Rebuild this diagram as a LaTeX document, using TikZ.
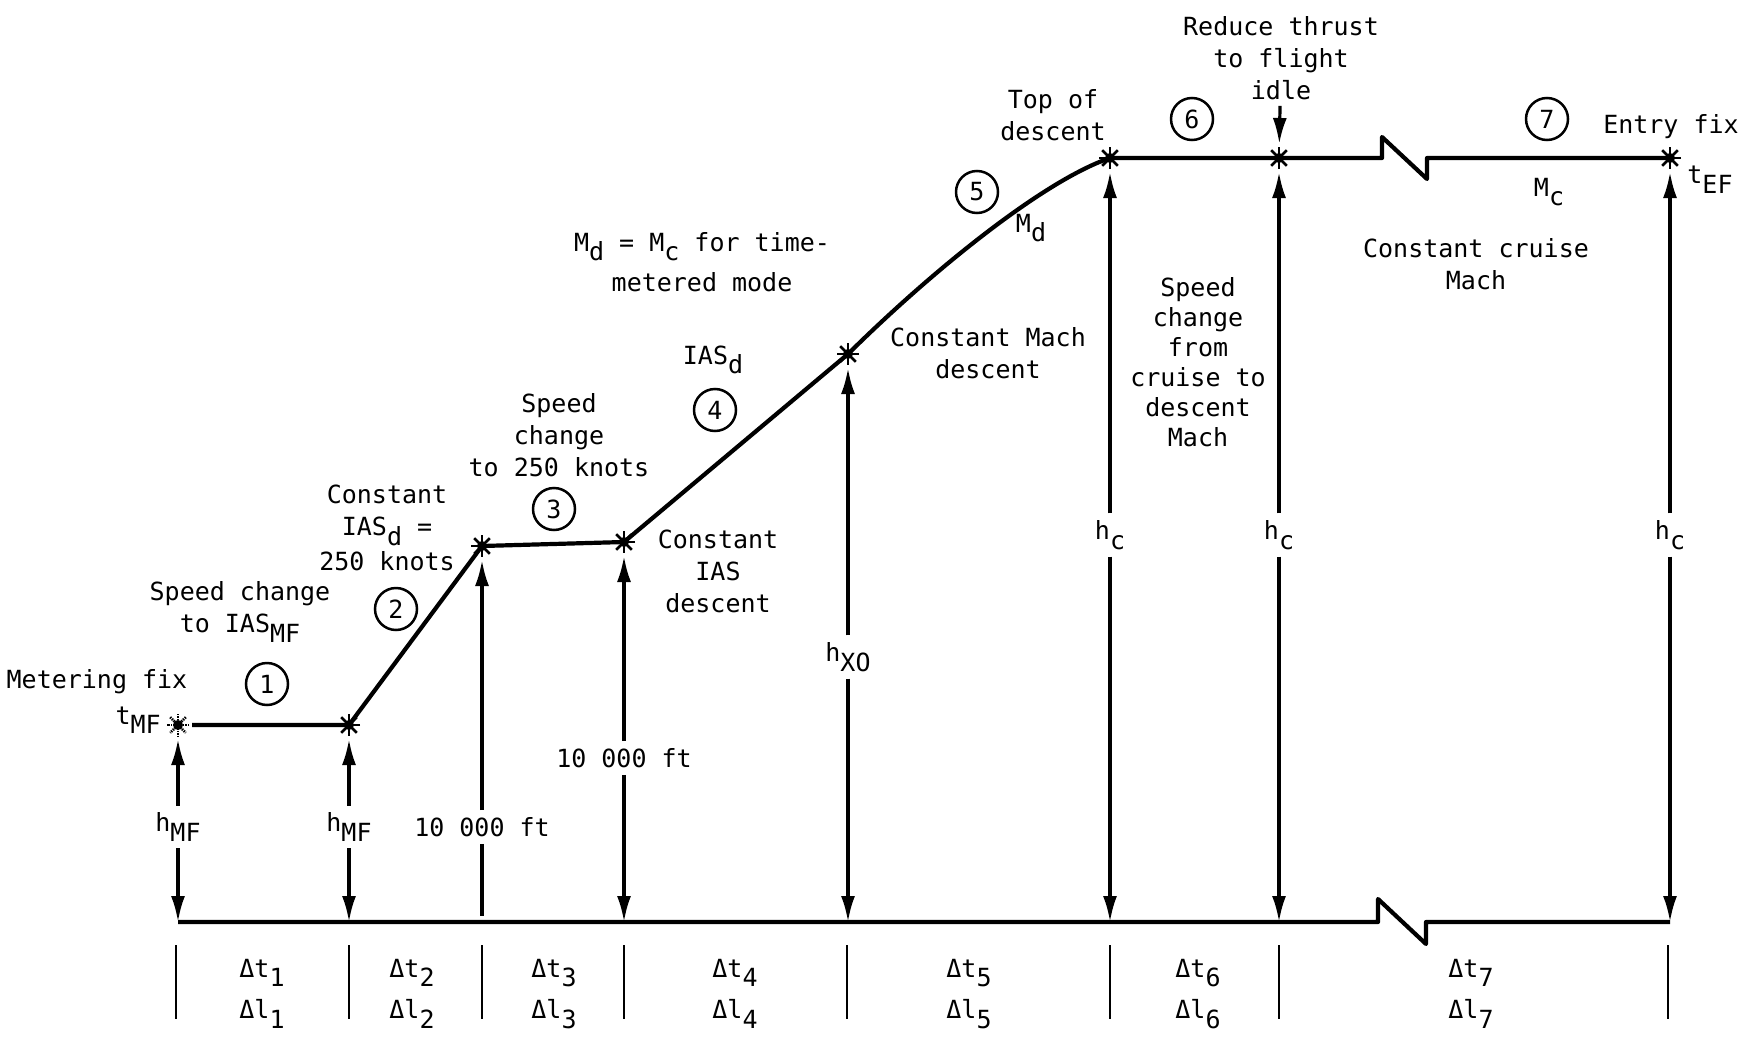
\documentclass[tikz,border=0pt]{standalone}
\usepackage{fontspec}
\newfontfamily\monofnt{DejaVu Sans Mono}
\usetikzlibrary{arrows.meta, positioning}
\newcommand{\lowr}[1]{\raisebox{-0.7ex}{#1}}
\newcommand{\lblfont}{\monofnt\fontsize{25}{32}\selectfont}

\tikzset{
  lbl/.style={font=\lblfont, align=center, inner sep=0pt},
  vlbl/.style={lbl, inner sep=7pt},
  cnum/.style={circle, draw, line width=2.5pt, minimum size=42pt, inner sep=0pt, font=\lblfont},
  track/.style={line width=4.2pt, line join=round},
  harrow/.style={line width=3.2pt, -{Latex[length=26pt,width=14pt]}},
  sepline/.style={line width=2.8pt},
  burst/.pic={
    \foreach \a in {0,45,90,135}
      \draw[line width=2.6pt] (\a:11pt) -- (\a+180:11pt);
    \fill (0,0) circle (5pt);
  }
}

\begin{document}
\begin{tikzpicture}[x=1pt, y=-1pt]
\useasboundingbox (0,0) rectangle (1747,1038);

% profile points
\coordinate (mf)  at (178,725);
\coordinate (p2)  at (349,725);
\coordinate (p3)  at (482,546);
\coordinate (p4)  at (624,542);
\coordinate (xo)  at (848,354);
\coordinate (tod) at (1110,158);
\coordinate (rt)  at (1279,158);
\coordinate (brk) at (1382,158);
\coordinate (ef)  at (1670,158);

% ground points
\coordinate (gmf)  at (178,922);
\coordinate (gp2)  at (349,922);
\coordinate (gp3)  at (482,922);
\coordinate (gp4)  at (624,922);
\coordinate (gxo)  at (848,922);
\coordinate (gtod) at (1110,922);
\coordinate (grt)  at (1279,922);
\coordinate (gbrk) at (1378,922);
\coordinate (gef)  at (1670,922);

% descent profile
\draw[track, shorten <=14pt] (mf) -- (p2) -- (p3) -- (p4) -- (xo)
  .. controls (935,268) and (1045,180) .. (tod) -- (rt) -- (brk)
  -- ++(0,-21) -- ++(45,42) -- ++(0,-21) -- (ef);
\draw[track] (gmf) -- (gbrk) -- ++(0,-23) -- ++(48,45) -- ++(0,-22) -- (gef);

% markers
\pic[line width=1.4pt, densely dotted] at (mf) {burst};
\foreach \p in {p2,p3,p4,xo,tod,rt,ef}
  \pic at (\p) {burst};

% altitude arrows
\node[vlbl] (hmfa) at (178,827) {h\lowr{MF}};
\draw[harrow, shorten >=14pt] (hmfa) -- (mf);
\draw[harrow] (hmfa) -- (gmf);

\node[vlbl] (hmfb) at (349,827) {h\lowr{MF}};
\draw[harrow, shorten >=14pt] (hmfb) -- (p2);
\draw[harrow] (hmfb) -- (gp2);

\node[vlbl] (tenka) at (482,827) {10 000 ft};
\draw[harrow, shorten >=14pt] (tenka) -- (p3);
\draw[line width=3.2pt, shorten >=6pt] (tenka) -- (gp3);

\node[vlbl] (tenkb) at (624,758) {10 000 ft};
\draw[harrow, shorten >=14pt] (tenkb) -- (p4);
\draw[harrow] (tenkb) -- (gp4);

\node[vlbl] (hxo) at (848,657) {h\lowr{XO}};
\draw[harrow, shorten >=14pt] (hxo) -- (xo);
\draw[harrow] (hxo) -- (gxo);

\node[vlbl] (hca) at (1110,535) {h\lowr{c}};
\draw[harrow, shorten >=14pt] (hca) -- (tod);
\draw[harrow] (hca) -- (gtod);

\node[vlbl] (hcb) at (1279,535) {h\lowr{c}};
\draw[harrow, shorten >=14pt] (hcb) -- (rt);
\draw[harrow] (hcb) -- (grt);

\node[vlbl] (hcc) at (1670,535) {h\lowr{c}};
\draw[harrow, shorten >=14pt] (hcc) -- (ef);
\draw[harrow] (hcc) -- (gef);

% segment separators and increments
\foreach \x in {176,349,482,624,847,1110,1279,1668}
  \draw[sepline] (\x,945) -- (\x,1019);
\foreach \x/\i in {262/1,412/2,554/3,735/4,969/5,1198/6,1471/7} {
  \node[lbl] (dt\i) at (\x,973) {Δt\lowr{\i}};
  \node[lbl] (dl\i) at (\x,1014) {Δl\lowr{\i}};
}

% segment numbers
\node[cnum] (n1) at (267,684) {1};
\node[cnum] (n2) at (396,609) {2};
\node[cnum] (n3) at (554,509) {3};
\node[cnum] (n4) at (715,410) {4};
\node[cnum] (n5) at (977,192) {5};
\node[cnum] (n6) at (1192,119) {6};
\node[cnum] (n7) at (1547,119) {7};

% annotations
\node[lbl] (mfix) at (97,682) {Metering fix};
\node[lbl, anchor=east] (tmf) at (161,720) {t\lowr{MF}};
\node[lbl] (spd1) at (240,612) {Speed change\\to IAS\lowr{MF}};
\node[lbl] (cias) at (387,528) {Constant\\IAS\lowr{d} =\\[3pt]250 knots};
\node[lbl] (spd3) at (559,435) {Speed\\change\\to 250 knots};
\node[lbl] (ciasd) at (718,571) {Constant\\IAS\\descent};
\node[lbl] (iasd) at (713,360) {IAS\lowr{d}};
\node[lbl] (mdmc) at (702,262) {M\lowr{d} = M\lowr{c} for time-\\[8pt]metered mode};
\node[lbl] (md) at (1031,228) {M\lowr{d}};
\node[lbl] (cmach) at (988,353) {Constant Mach\\descent};
\node[lbl] (topd) at (1053,115) {Top of\\descent};
\node[lbl] (redt) at (1281,58) {Reduce thrust\\to flight\\idle};
\draw[harrow, shorten <=6pt, shorten >=14pt] (redt) -- (rt);
\node[lbl] (efix) at (1671,127) {Entry fix};
\node[lbl] (tef) at (1710,180) {t\lowr{EF}};
\node[lbl] (mc) at (1549,192) {M\lowr{c}};
\node[lbl] (ccm) at (1476,264) {Constant cruise\\Mach};
\node[lbl, font=\monofnt\fontsize{25}{30}\selectfont] (spd6) at (1198,362)
  {Speed\\change\\from\\cruise to\\descent\\Mach};

\end{tikzpicture}
\end{document}
